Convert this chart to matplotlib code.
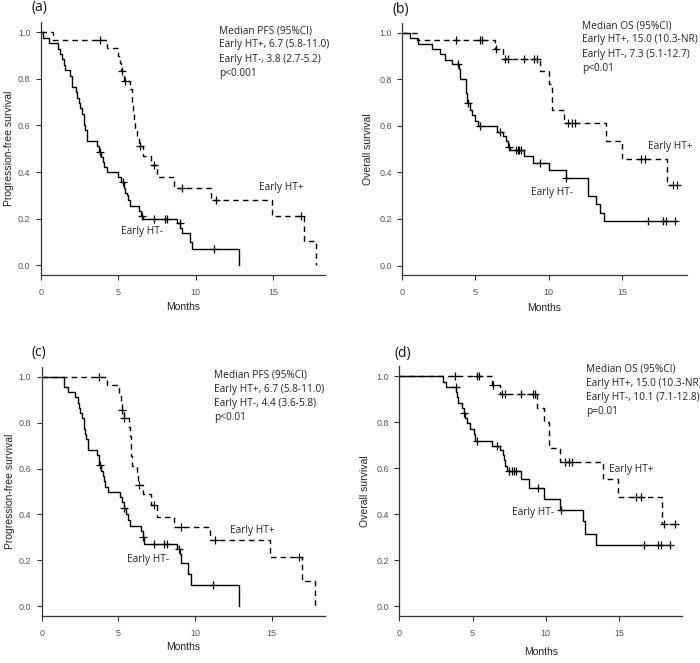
import numpy as np
import matplotlib.pyplot as plt

# (a) progression-free survival, cohort 1
a_neg_t = [0.15, 0.5, 1.1, 1.25, 1.35, 1.5, 1.55, 1.9, 2.0, 2.25, 2.35, 2.45, 2.55, 2.65, 2.75, 2.85, 2.95, 3.65, 3.75, 3.9,
           4.0, 4.1, 4.25, 5.0, 5.15, 5.35, 5.45, 5.55, 5.65, 5.75, 6.35, 6.45, 6.6, 8.8, 9.0, 9.1, 9.6, 9.75, 12.8]
a_neg_s = [0.977, 0.953, 0.93, 0.907, 0.884, 0.86, 0.837, 0.814, 0.767, 0.744, 0.72, 0.698, 0.674, 0.65, 0.60, 0.58, 0.535, 0.51, 0.488, 0.465,
           0.442, 0.42, 0.40, 0.378, 0.356, 0.333, 0.31, 0.30, 0.28, 0.256, 0.233, 0.21, 0.20, 0.18, 0.16, 0.14, 0.10, 0.07, 0.0]
a_neg_c = [3.8, 5.3, 6.55, 7.3, 8.0, 8.15, 8.95, 11.2]
a_pos_t = [0.75, 4.25, 5.0, 5.1, 5.2, 5.35, 5.75, 5.85, 5.9, 5.95, 6.0, 6.05, 6.2, 6.3, 6.6, 7.1, 7.5, 8.6, 11.0, 14.95, 17.0, 17.8]
a_pos_s = [0.967, 0.933, 0.90, 0.867, 0.833, 0.79, 0.755, 0.72, 0.69, 0.655, 0.62, 0.59, 0.555, 0.51, 0.47, 0.43, 0.38, 0.333, 0.28, 0.21, 0.105, 0.0]
a_pos_c = [3.8, 5.25, 5.4, 6.4, 7.3, 9.1, 11.3, 16.8]

# (b) overall survival, cohort 1
b_neg_t = [0.5, 1.1, 2.0, 2.55, 2.9, 3.4, 3.85, 3.95, 4.35, 4.45, 4.6, 4.75, 5.0, 5.2, 6.5, 6.9, 7.1, 7.25, 7.35, 8.3,
           8.9, 10.0, 11.15, 12.7, 13.2, 13.5, 13.75]
b_neg_s = [0.977, 0.953, 0.93, 0.907, 0.884, 0.866, 0.845, 0.80, 0.74, 0.70, 0.67, 0.645, 0.62, 0.598, 0.575, 0.555, 0.535, 0.51, 0.495, 0.47,
           0.442, 0.41, 0.375, 0.30, 0.265, 0.225, 0.19]
b_neg_c = [3.8, 4.5, 5.3, 6.7, 7.3, 7.8, 7.9, 8.0, 8.1, 9.4, 11.2, 16.8, 17.8, 18.0, 18.6]
b_pos_t = [1.0, 6.3, 6.85, 9.4, 10.0, 10.2, 10.25, 11.05, 13.95, 14.98, 18.07]
b_pos_s = [0.967, 0.93, 0.887, 0.834, 0.78, 0.725, 0.669, 0.612, 0.535, 0.458, 0.345]
b_pos_c = [3.7, 5.3, 5.45, 6.4, 7.0, 7.2, 8.3, 9.0, 9.2, 11.3, 11.6, 11.8, 16.3, 16.6, 18.5, 18.8]

# (c) progression-free survival, cohort 2
c_neg_t = [1.46, 1.7, 2.2, 2.35, 2.45, 2.5, 2.65, 2.75, 2.85, 2.9, 3.0, 3.6, 3.75, 3.9, 4.0, 4.05, 4.15, 4.3, 5.1, 5.25,
           5.35, 5.5, 5.65, 5.75, 6.45, 6.6, 6.7, 8.8, 9.0, 9.1, 9.55, 9.75, 12.85]
c_neg_s = [0.955, 0.932, 0.91, 0.886, 0.864, 0.841, 0.818, 0.773, 0.75, 0.727, 0.682, 0.66, 0.614, 0.59, 0.568, 0.545, 0.52, 0.50, 0.477, 0.455,
           0.43, 0.40, 0.375, 0.352, 0.33, 0.30, 0.273, 0.25, 0.23, 0.19, 0.14, 0.095, 0.0]
c_neg_c = [3.8, 5.35, 6.6, 7.3, 8.0, 8.15, 8.95, 11.2]
c_pos_t = [4.25, 5.05, 5.15, 5.25, 5.4, 5.7, 5.75, 5.8, 5.85, 5.9, 6.2, 6.3, 6.6, 7.1, 7.5, 8.65, 10.95, 14.9, 17.0, 17.8]
c_pos_s = [0.964, 0.929, 0.893, 0.857, 0.82, 0.78, 0.74, 0.70, 0.655, 0.61, 0.57, 0.53, 0.49, 0.44, 0.39, 0.345, 0.29, 0.215, 0.11, 0.0]
c_pos_c = [3.75, 5.25, 5.4, 6.35, 7.3, 9.1, 11.3, 16.8]

# (d) overall survival, cohort 2
d_neg_t = [3.0, 3.2, 3.9, 3.95, 4.0, 4.3, 4.4, 4.5, 4.6, 4.8, 5.1, 5.15, 6.3, 6.9, 7.05, 7.15, 7.25, 7.35, 8.3, 8.85,
           9.85, 11.0, 12.55, 12.65, 13.45]
d_neg_s = [0.977, 0.955, 0.93, 0.91, 0.886, 0.864, 0.84, 0.818, 0.795, 0.773, 0.75, 0.72, 0.698, 0.68, 0.66, 0.635, 0.61, 0.59, 0.555, 0.515,
           0.466, 0.42, 0.37, 0.315, 0.265]
d_neg_c = [3.85, 4.45, 5.3, 6.7, 7.5, 7.7, 7.85, 8.0, 9.5, 11.05, 16.7, 17.7, 17.9, 18.5]
d_pos_t = [6.3, 6.85, 9.4, 9.9, 10.2, 11.0, 13.9, 14.95, 17.95]
d_pos_s = [0.962, 0.921, 0.86, 0.80, 0.69, 0.627, 0.553, 0.475, 0.36]
d_pos_c = [3.8, 5.3, 5.45, 6.4, 7.0, 7.2, 8.3, 9.1, 9.25, 11.3, 11.6, 11.8, 16.2, 16.5, 18.1, 18.8]

panels = [
    dict(tag='(a)', ylab='Progression-free survival',
         text=['Median PFS (95%CI)', 'Early HT+, 6.7 (5.8-11.0)', 'Early HT-, 3.8 (2.7-5.2)', 'p<0.001'],
         neg=(a_neg_t, a_neg_s, a_neg_c), pos=(a_pos_t, a_pos_s, a_pos_c),
         rect=(41, 22.3, 325, 275), xmax=18.35, txt=(11.5, 1.007), lpos=(14.1, 0.333), lneg=(5.15, 0.143),
         tagxy=(32, 7), xl_off=31.7, yl_off=31.7),
    dict(tag='(b)', ylab='Overall survival',
         text=['Median OS (95%CI)', 'Early HT+, 15.0 (10.3-NR)', 'Early HT-, 7.3 (5.1-12.7)', 'p<0.01'],
         neg=(b_neg_t, b_neg_s, b_neg_c), pos=(b_pos_t, b_pos_s, b_pos_c),
         rect=(402.3, 22.7, 686.7, 275.3), xmax=19.43, txt=(12.3, 1.03), lpos=(16.8, 0.513), lneg=(8.8, 0.314),
         tagxy=(392.7, 10), xl_off=33, yl_off=34),
    dict(tag='(c)', ylab='Progression-free survival',
         text=['Median PFS (95%CI)', 'Early HT+, 6.7 (5.8-11.0)', 'Early HT-, 4.4 (3.6-5.8)', 'p<0.01'],
         neg=(c_neg_t, c_neg_s, c_neg_c), pos=(c_pos_t, c_pos_s, c_pos_c),
         rect=(41.7, 366.8, 325, 616), xmax=18.48, txt=(11.26, 1.007), lpos=(12.3, 0.329), lneg=(5.54, 0.203),
         tagxy=(31.7, 352.7), xl_off=30.7, yl_off=31.7),
    dict(tag='(d)', ylab='Overall survival',
         text=['Median OS (95%CI)', 'Early HT+, 15.0 (10.3-NR)', 'Early HT-, 10.1 (7.1-12.8)', 'p=0.01'],
         neg=(d_neg_t, d_neg_s, d_neg_c), pos=(d_pos_t, d_pos_s, d_pos_c),
         rect=(399.3, 366.4, 682.3, 616), xmax=19.33, txt=(12.73, 1.03), lpos=(14.35, 0.596), lneg=(7.68, 0.406),
         tagxy=(394.3, 353.3), xl_off=35.7, yl_off=34.3),
]

W, H = 700, 663
fig = plt.figure(figsize=(W / 100, H / 100), dpi=100)
lab_font = ['Liberation Sans', 'DejaVu Sans']
txt_font = ['Open Sans', 'DejaVu Sans']


def km(ax, t, s, c, ls):
    t = list(t)
    s = list(s)
    end = max(max(c), t[-1])
    xs = [0] + t + [end]
    ys = [1.0] + s + [s[-1]]
    ax.step(xs, ys, where='post', color='black', lw=1.0, linestyle=ls)
    idx = np.searchsorted(np.array(t), np.array(c), side='right')
    full = np.array([1.0] + s)
    ax.plot(c, full[idx], linestyle='none', marker='+', color='black', ms=5.5, mew=0.9)


for p in panels:
    x0, y0, x1, y1 = p['rect']
    ax = fig.add_axes([x0 / W, 1 - y1 / H, (x1 - x0) / W, (y1 - y0) / H])
    km(ax, *p['neg'], ls='-')
    km(ax, *p['pos'], ls=(0, (4, 3)))
    ax.set_xlim(0, p['xmax'])
    ax.set_ylim(-0.042, 1.043)
    ax.set_xticks([0, 5, 10, 15])
    ax.set_yticks([0, 0.2, 0.4, 0.6, 0.8, 1.0])
    ax.set_yticklabels(['%.1f' % v for v in [0, 0.2, 0.4, 0.6, 0.8, 1.0]])
    for side in ['top', 'right']:
        ax.spines[side].set_visible(False)
    for side in ['left', 'bottom']:
        ax.spines[side].set_color('#333333')
        ax.spines[side].set_linewidth(0.9)
    ax.tick_params(axis='both', direction='out', length=3.5, width=0.8, color='#333333',
                   labelsize=6.5, labelcolor='#555555')
    ax.tick_params(axis='x', pad=6)
    ax.tick_params(axis='y', pad=4)
    for lbl in ax.get_xticklabels() + ax.get_yticklabels():
        lbl.set_family(lab_font)
    ax.set_xlabel('Months', fontsize=7.5, family=lab_font, color='#222222')
    ax.set_ylabel(p['ylab'], fontsize=7.5, family=lab_font, color='#222222')
    hpx = y1 - y0
    wpx = x1 - x0
    ax.xaxis.set_label_coords(0.5, -p['xl_off'] / hpx)
    ax.xaxis.label.set_va('center')
    ax.yaxis.set_label_coords(-p['yl_off'] / wpx, 0.5)
    ax.yaxis.label.set_va('center')

    tx, ty = p['txt']
    for i, line in enumerate(p['text']):
        ax.text(tx, ty - i * 0.061, line, fontsize=7.3, family=txt_font, color='#222222',
                ha='left', va='center')
    ax.text(p['lpos'][0], p['lpos'][1], 'Early HT+', fontsize=7.3, family=txt_font,
            color='#222222', ha='left', va='center')
    ax.text(p['lneg'][0], p['lneg'][1], 'Early HT-', fontsize=7.3, family=txt_font,
            color='#222222', ha='left', va='center')
    fig.text(p['tagxy'][0] / W, 1 - p['tagxy'][1] / H, p['tag'], fontsize=10, family=txt_font,
             color='#111111', ha='left', va='center')

fig.savefig('out.png', dpi=100)
